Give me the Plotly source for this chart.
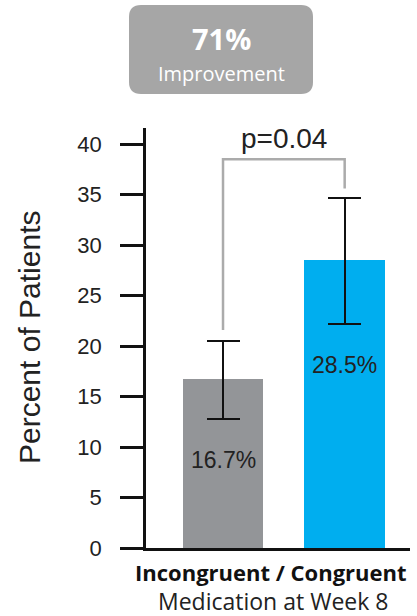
import plotly.graph_objects as go

# ---- data ----
categories = ["Incongruent", "Congruent"]
values = [16.7, 28.5]
err_plus = [3.8, 6.2]
err_minus = [3.9, 6.3]
bar_labels = ["16.7%", "28.5%"]
bar_label_y = [8.7, 18.1]
bar_colors = ["#939598", "#00AEEF"]
y_ticks = [0, 5, 10, 15, 20, 25, 30, 35, 40]
p_text = "p=0.04"
bracket_top = 38.5
bracket_left_bottom = 21.6
bracket_right_bottom = 35.6
x_title_1 = "Incongruent / Congruent"
x_title_2 = "Medication at Week 8"
y_title = "Percent of Patients"
box_big = "71%"
box_small = "Improvement"

W, H = 417, 616
ML, MR, MT, MB = 146, 7, 128, 68
PW, PH = W - ML - MR, H - MT - MB

def px_x(p):
    return (p - ML) / PW

def px_y(p):
    return (H - MB - p) / PH

fig = go.Figure()

fig.add_trace(go.Bar(
    x=[0, 1], y=values, width=0.662,
    marker=dict(color=bar_colors, line=dict(width=0)),
    error_y=dict(type="data", array=err_plus, arrayminus=err_minus,
                 color="#111111", thickness=2, width=16.5),
    showlegend=False, hoverinfo="skip",
))

# significance bracket
fig.add_trace(go.Scatter(
    x=[0, 0, 1, 1],
    y=[bracket_left_bottom, bracket_top, bracket_top, bracket_right_bottom],
    mode="lines", line=dict(color="#ababab", width=2.5),
    showlegend=False, hoverinfo="skip",
))

annotations = []
annotations.append(dict(x=0.5, y=40.6, xref="x", yref="y", text=p_text,
                        showarrow=False, xanchor="center", yanchor="middle",
                        font=dict(family="Liberation Sans", size=28, color="#222222")))
for i, (lab, ly) in enumerate(zip(bar_labels, bar_label_y)):
    annotations.append(dict(x=i, y=ly, xref="x", yref="y", text=lab, showarrow=False,
                            xanchor="center", yanchor="middle",
                            font=dict(family="Liberation Sans", size=23, color="#222222")))

# x titles
annotations.append(dict(x=px_x(271), y=px_y(572), xref="paper", yref="paper", text="<b>" + x_title_1 + "</b>",
                        showarrow=False, xanchor="center", yanchor="middle",
                        font=dict(family="Open Sans", size=22, color="#111111")))
annotations.append(dict(x=px_x(273), y=px_y(601), xref="paper", yref="paper", text=x_title_2,
                        showarrow=False, xanchor="center", yanchor="middle",
                        font=dict(family="Open Sans", size=23, color="#222222")))
# y title
annotations.append(dict(x=px_x(29), y=px_y(338), xref="paper", yref="paper", text=y_title,
                        showarrow=False, textangle=-90, xanchor="center", yanchor="middle",
                        font=dict(family="Liberation Sans", size=30, color="#222222")))

# top box
bx0, bx1, by0, by1 = px_x(129), px_x(313), px_y(94), px_y(5)
rx, ry = 12 / PW, 12 / PH
path = (f"M {bx0+rx},{by0} L {bx1-rx},{by0} Q {bx1},{by0} {bx1},{by0+ry} "
        f"L {bx1},{by1-ry} Q {bx1},{by1} {bx1-rx},{by1} L {bx0+rx},{by1} "
        f"Q {bx0},{by1} {bx0},{by1-ry} L {bx0},{by0+ry} Q {bx0},{by0} {bx0+rx},{by0} Z")
shapes = [dict(type="path", xref="paper", yref="paper", path=path,
               fillcolor="#a6a6a6", line=dict(width=0), layer="below")]
annotations.append(dict(x=px_x(221), y=px_y(38), xref="paper", yref="paper", text="<b>" + box_big + "</b>",
                        showarrow=False, xanchor="center", yanchor="middle",
                        font=dict(family="Open Sans", size=29, color="white")))
annotations.append(dict(x=px_x(221), y=px_y(73), xref="paper", yref="paper", text=box_small,
                        showarrow=False, xanchor="center", yanchor="middle",
                        font=dict(family="Open Sans", size=20, color="white")))

fig.update_layout(
    width=W, height=H,
    margin=dict(l=ML, r=MR, t=MT, b=MB, pad=0),
    paper_bgcolor="white", plot_bgcolor="white",
    annotations=annotations, shapes=shapes,
    xaxis=dict(range=[-0.633, 1.537], showgrid=False, zeroline=False,
               showticklabels=False, ticks="", showline=True, linecolor="#111111", linewidth=2.5,
               fixedrange=True),
    yaxis=dict(range=[0, 41.6], tickvals=y_ticks, showgrid=False, zeroline=False,
               ticks="outside", ticklen=23, tickwidth=2.5, tickcolor="#111111",
               showline=True, linecolor="#111111", linewidth=2.5,
               ticklabelstandoff=14,
               tickfont=dict(family="Liberation Sans", size=22, color="#222222"),
               fixedrange=True),
    bargap=0,
)

fig.write_html("out.html", config={"displayModeBar": False},
               post_script="document.body.style.margin='0';document.body.style.overflow='hidden';")
